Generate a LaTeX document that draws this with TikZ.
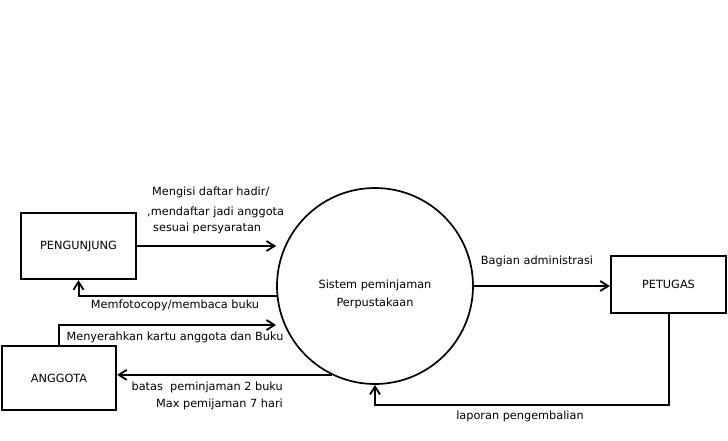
\documentclass[tikz,border=0pt]{standalone}
\usepackage{fontspec}
\setmainfont{DejaVu Sans}
\usetikzlibrary{arrows.meta}
\usetikzlibrary{positioning}
\usetikzlibrary{calc}
\tikzset{
  entitas/.style = {draw=black, line width=2.2pt, rectangle, align=center,
    inner sep=0pt},% kotak entitas luar
  proses/.style = {draw=black, line width=1.7pt, circle, align=center,
    minimum size=196pt, inner sep=0pt},% lingkaran proses
  alur/.style = {line width=2pt, -{Straight Barb[length=8pt,width=10pt,line width=1.8pt]}},
  ket/.style = {inner sep=0pt, align=left}
}

\begin{document}
\begin{tikzpicture}[x=1pt,y=-1pt,font=\fontsize{11.3}{13}\selectfont]
\useasboundingbox (0,0) rectangle (728,440);

\node [entitas, minimum width=115pt, minimum height=66pt] (pengunjung) at (78.5,246) {PENGUNJUNG};
\node [entitas, minimum width=114pt, minimum height=64pt] (anggota) at (59,378) {ANGGOTA};
\node [entitas, minimum width=115pt, minimum height=57pt] (petugas) at (668.5,284.5) {PETUGAS};
\node [proses] (sistem) at (375,286) {};
\node [ket, align=center] (judul) at (375,294) {Sistem peminjaman\\[5pt]Perpustakaan};

% alur data
\draw [alur] (pengunjung.east) -- (pengunjung.east -| sistem.west);
\draw [alur] (sistem.186) -| (pengunjung.south);
\draw [alur] (anggota.north) |- ([yshift=-39pt]sistem.west);
\draw [alur] (sistem.244) -- (sistem.244 -| anggota.east);
\draw [alur] (sistem.east) -- (sistem.east -| petugas.west);
\draw [alur] (petugas.south) -- ++(0,91) -| (sistem.south);

% keterangan
\node [ket, anchor=north west] (daftar) at (147,187) {\hspace{5pt}Mengisi daftar hadir/\\[7pt],mendaftar jadi anggota\\[3pt]\hspace{6pt}sesuai persyaratan};
\node [ket] (fotocopy) at (175,305) {Memfotocopy/membaca buku};
\node [ket] (serah) at (175,337) {Menyerahkan kartu anggota dan Buku};
\node [ket, align=right, anchor=north east] (batas) at (283,382) {batas\ \ peminjaman 2 buku\\[4pt]Max pemijaman 7 hari\hspace{5pt}};
\node [ket] (admin) at (537,261) {Bagian administrasi};
\node [ket] (laporan) at (520,416) {laporan pengembalian};
\end{tikzpicture}
\end{document}
